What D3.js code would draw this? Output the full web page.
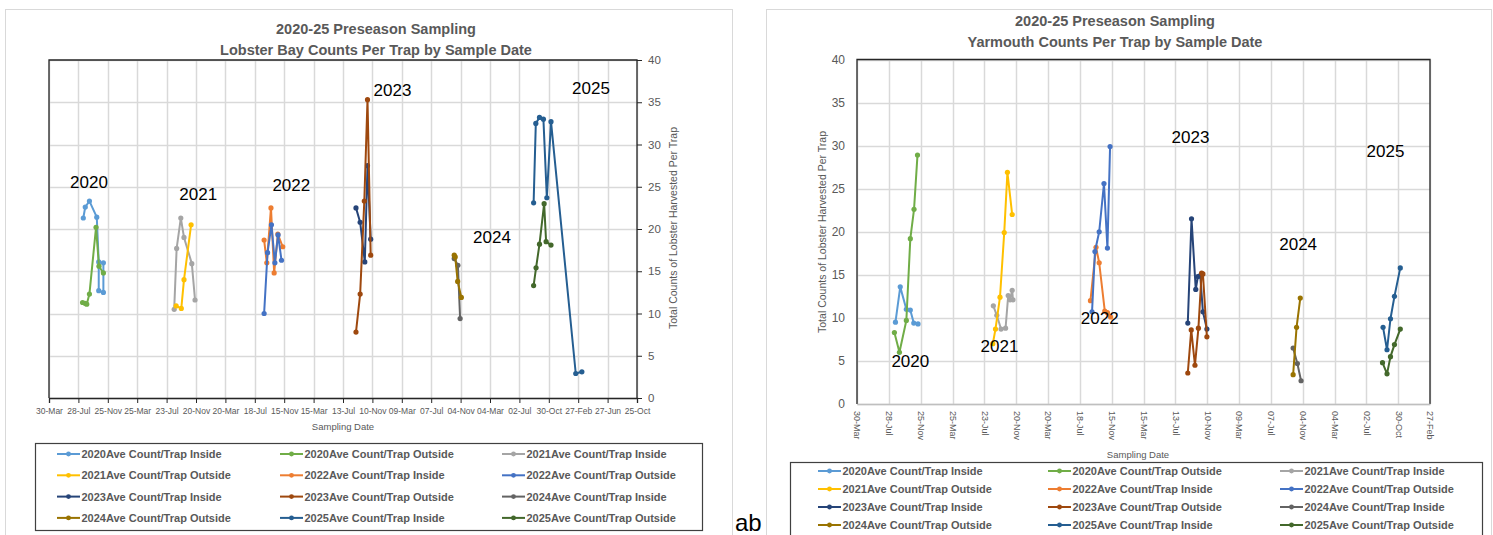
<!DOCTYPE html>
<meta charset="utf-8">
<script src="https://d3js.org/d3.v7.min.js"></script>
<style>
  body { margin: 0; background: #fff; }
  text { font-family: "Liberation Sans", Arial, sans-serif; }
</style>
<body>
<div id="canvas"></div>
<script>

// eixo X: Excel coloca um tick a cada 120 dias
var tickDates = ["2020-03-30","2020-07-28","2020-11-25","2021-03-25","2021-07-23","2021-11-20",
                 "2022-03-20","2022-07-18","2022-11-15","2023-03-15","2023-07-13","2023-11-10",
                 "2024-03-09","2024-07-07","2024-11-04","2025-03-04","2025-07-02","2025-10-30",
                 "2026-02-27","2026-06-27","2026-10-25"];
var yTicks = [0, 5, 10, 15, 20, 25, 30, 35, 40];

var seriesNames = ["2020Ave Count/Trap Inside","2020Ave Count/Trap Outside","2021Ave Count/Trap Inside",
                   "2021Ave Count/Trap Outside","2022Ave Count/Trap Inside","2022Ave Count/Trap Outside",
                   "2023Ave Count/Trap Inside","2023Ave Count/Trap Outside","2024Ave Count/Trap Inside",
                   "2024Ave Count/Trap Outside","2025Ave Count/Trap Inside","2025Ave Count/Trap Outside"];

// ---- Lobster Bay (grafico da esquerda)
var lb2020In  = [["2020-08-17",21.3],["2020-08-25",22.6],["2020-09-11",23.3],["2020-10-11",21.4],["2020-10-19",16.1],["2020-10-19",12.7],["2020-11-07",12.5],["2020-11-07",16.0]];
var lb2020Out = [["2020-08-14",11.3],["2020-08-24",11.2],["2020-08-31",11.1],["2020-09-11",12.3],["2020-10-08",20.2],["2020-10-20",15.6],["2020-11-07",14.8]];
var lb2021In  = [["2021-08-23",10.5],["2021-09-02",17.7],["2021-09-19",21.3],["2021-10-02",19.0],["2021-11-03",15.9],["2021-11-16",11.6]];
var lb2021Out = [["2021-08-31",10.9],["2021-09-21",10.6],["2021-10-02",14.0],["2021-10-31",20.5]];
var lb2022In  = [["2022-08-25",18.7],["2022-09-05",16.0],["2022-09-22",22.5],["2022-10-05",14.8],["2022-10-20",19.4],["2022-11-09",17.9]];
var lb2022Out = [["2022-08-25",10.0],["2022-09-08",17.2],["2022-09-24",20.5],["2022-10-08",16.0],["2022-10-21",19.3],["2022-11-04",16.3]];
var lb2023In  = [["2023-09-04",22.5],["2023-09-21",20.8],["2023-10-10",16.1],["2023-10-21",27.5],["2023-11-03",18.8]];
var lb2023Out = [["2023-09-04",7.8],["2023-09-21",12.3],["2023-10-08",23.3],["2023-10-21",35.3],["2023-11-03",16.9]];
var lb2024In  = [["2024-10-09",16.5],["2024-10-24",15.7],["2024-11-02",9.4]];
var lb2024Out = [["2024-10-09",16.9],["2024-10-13",16.7],["2024-10-23",13.8],["2024-11-07",11.9]];
var lb2025In  = [["2025-08-29",23.1],["2025-09-07",32.5],["2025-09-22",33.2],["2025-10-08",33.0],["2025-10-22",23.7],["2025-11-08",32.7],["2026-02-17",2.9],["2026-03-14",3.1]];
var lb2025Out = [["2025-08-29",13.3],["2025-09-08",15.4],["2025-09-22",18.2],["2025-10-11",23.0],["2025-10-19",18.5],["2025-11-08",18.1]];

// ---- Yarmouth (grafico da direita)
var ym2020In  = [["2020-08-22",9.5],["2020-09-09",13.6],["2020-10-02",11.0],["2020-10-17",10.9],["2020-10-30",9.4],["2020-11-15",9.3]];
var ym2020Out = [["2020-08-18",8.3],["2020-09-06",6.0],["2020-10-02",9.7],["2020-10-17",19.2],["2020-10-31",22.6],["2020-11-13",28.9]];
var ym2021In  = [["2021-08-26",11.4],["2021-09-08",10.3],["2021-09-24",8.7],["2021-10-11",8.8],["2021-10-21",12.6],["2021-10-28",12.1],["2021-11-05",13.2],["2021-11-08",12.1]];
var ym2021Out = [["2021-08-24",7.0],["2021-09-03",8.7],["2021-09-20",12.4],["2021-10-06",19.9],["2021-10-18",26.9],["2021-11-05",22.0]];
var ym2022In  = [["2022-08-27",12.0],["2022-09-17",18.2],["2022-09-29",16.4],["2022-10-20",10.8],["2022-10-30",10.6],["2022-11-11",10.1]];
var ym2022Out = [["2022-09-02",10.7],["2022-09-13",17.7],["2022-09-29",20.0],["2022-10-17",25.6],["2022-10-30",18.1],["2022-11-09",29.9]];
var ym2023In  = [["2023-08-29",9.4],["2023-09-12",21.5],["2023-09-28",13.3],["2023-10-06",14.8],["2023-10-15",14.9],["2023-10-25",10.7],["2023-11-09",8.7]];
var ym2023Out = [["2023-08-29",3.6],["2023-09-11",8.6],["2023-09-25",4.5],["2023-10-08",8.8],["2023-10-20",15.2],["2023-10-25",15.1],["2023-11-09",7.8]];
var ym2024In  = [["2024-09-29",6.5],["2024-10-15",4.7],["2024-10-29",2.7]];
var ym2024Out = [["2024-09-29",3.4],["2024-10-12",8.9],["2024-10-26",12.3]];
var ym2025In  = [["2025-09-03",8.9],["2025-09-18",6.3],["2025-10-01",9.9],["2025-10-16",12.5],["2025-11-07",15.8]];
var ym2025Out = [["2025-09-01",4.8],["2025-09-18",3.5],["2025-10-01",5.5],["2025-10-16",6.9],["2025-11-07",8.7]];

// rotulos dos anos (posicao em data / valor)
var lbYearLabels = [["2020","2020-09-09",24.8],["2021","2021-11-29",23.4],["2022","2022-12-14",24.5],
                    ["2023","2024-01-31",35.7],["2024","2025-03-12",18.4],["2025","2026-04-20",36.0]];
var ymYearLabels = [["2020","2020-10-17",4.3],["2021","2021-09-18",6.0],["2022","2022-10-01",9.25],
                    ["2023","2023-09-08",30.3],["2024","2024-10-18",17.9],["2025","2025-09-12",28.7]];

var colors = ["#5b9bd5","#70ad47","#a5a5a5","#ffc000","#ed7d31","#4472c4",
              "#264478","#9e480e","#636363","#997300","#255e91","#43682b"];

var parse = d3.utcParse("%Y-%m-%d");
var fmt = d3.utcFormat("%d-%b");
var textColor = "#595959";
var gridColor = "#d9d9d9";

var svg = d3.select("#canvas").append("svg")
    .attr("width", 1493).attr("height", 535)
    .style("display", "block");

var charts = [
  { place: "Lobster Bay",
    series: [lb2020In,lb2020Out,lb2021In,lb2021Out,lb2022In,lb2022Out,lb2023In,lb2023Out,lb2024In,lb2024Out,lb2025In,lb2025Out],
    years: lbYearLabels, ticks: tickDates,
    frame: {x: 5, y: 9, w: 727}, titleX: 376, titleY: 34,
    plot: {left: 49, right: 637, top: 60, bottom: 398},
    yRight: true, rotX: false,
    xTitle: [343, 430], yTitle: [673, 228],
    legend: {x: 35, y: 443, w: 667, h: 87, col: [57, 280, 502], row0: 454, rowH: 21.3} },
  { place: "Yarmouth",
    series: [ym2020In,ym2020Out,ym2021In,ym2021Out,ym2022In,ym2022Out,ym2023In,ym2023Out,ym2024In,ym2024Out,ym2025In,ym2025Out],
    years: ymYearLabels, ticks: tickDates.slice(0, 19),
    frame: {x: 766, y: 9, w: 725}, titleX: 1115, titleY: 26,
    plot: {left: 857, right: 1430, top: 59.5, bottom: 404},
    yRight: false, rotX: true,
    xTitle: [1138, 458], yTitle: [822, 232],
    legend: {x: 790, y: 462, w: 692, h: 90, col: [818, 1048, 1280], row0: 471, rowH: 18} }
];

charts.forEach(drawChart);

function drawChart(c) {
  var p = c.plot;
  var g = svg.append("g");

  // moldura do grafico
  g.append("rect")
    .attr("x", c.frame.x + 0.5).attr("y", c.frame.y + 0.5)
    .attr("width", c.frame.w).attr("height", 600)
    .attr("fill", "#fff").attr("stroke", gridColor);

  // titulo
  var t = g.append("text")
    .attr("x", c.titleX).attr("y", c.titleY)
    .attr("text-anchor", "middle")
    .style("font-size", "14.5px").style("font-weight", "bold")
    .attr("fill", textColor);
  t.append("tspan").attr("x", c.titleX).text("2020-25 Preseason Sampling");
  t.append("tspan").attr("x", c.titleX).attr("dy", "1.45em").text(c.place + " Counts Per Trap by Sample Date");

  var x = d3.scaleUtc()
    .domain([parse(c.ticks[0]), parse(c.ticks[c.ticks.length - 1])])
    .range([p.left, p.right]);
  var y = d3.scaleLinear().domain([0, 40]).range([p.bottom, p.top]);
  var tickVals = c.ticks.map(parse);

  // grade
  g.append("g").selectAll("line.v").data(tickVals).enter().append("line")
    .attr("x1", function(d) { return Math.round(x(d)) + 0.5; })
    .attr("x2", function(d) { return Math.round(x(d)) + 0.5; })
    .attr("y1", p.top).attr("y2", p.bottom)
    .attr("stroke", gridColor).attr("stroke-width", 1.5);
  g.append("g").selectAll("line.h").data(yTicks).enter().append("line")
    .attr("x1", p.left).attr("x2", p.right)
    .attr("y1", function(d) { return Math.round(y(d)) + 0.5; })
    .attr("y2", function(d) { return Math.round(y(d)) + 0.5; })
    .attr("stroke", gridColor).attr("stroke-width", 1.5);

  // borda da area do grafico
  g.append("path")
    .attr("d", "M" + p.left + "," + p.bottom + "V" + p.top + "H" + p.right + "V" + p.bottom)
    .attr("fill", "none").attr("stroke", "#262626").attr("stroke-width", 1.3);

  // eixo X
  var xAxis = d3.axisBottom(x).tickValues(tickVals).tickFormat(fmt)
    .tickSize(c.rotX ? 0 : 5).tickPadding(5);
  var gx = g.append("g")
    .attr("transform", "translate(0," + p.bottom + ")")
    .call(xAxis);
  gx.select(".domain").attr("stroke", c.rotX ? "#bfbfbf" : "#262626").attr("stroke-width", 1.3);
  gx.selectAll("line").attr("stroke", "#262626");
  gx.selectAll("text").attr("fill", textColor)
    .style("font-size", c.rotX ? "9px" : "8.5px")
    .style("font-family", '"Liberation Sans", Arial, sans-serif');
  if (c.rotX) {
    gx.selectAll("text")
      .attr("transform", "rotate(90)")
      .attr("x", 7).attr("y", 0).attr("dy", "0.35em")
      .style("text-anchor", "start");
  }

  // eixo Y
  var yAxis = (c.yRight ? d3.axisRight(y) : d3.axisLeft(y))
    .tickValues(yTicks).tickSize(c.yRight ? 5 : 0).tickPadding(c.yRight ? 6 : 12);
  var gy = g.append("g")
    .attr("transform", "translate(" + (c.yRight ? p.right : p.left) + ",0)")
    .call(yAxis);
  gy.select(".domain").remove();
  gy.selectAll("line").attr("stroke", "#262626");
  gy.selectAll("text").attr("fill", textColor)
    .style("font-size", c.yRight ? "11.5px" : "12px")
    .style("font-family", '"Liberation Sans", Arial, sans-serif');

  // titulos dos eixos
  g.append("text")
    .attr("x", c.xTitle[0]).attr("y", c.xTitle[1])
    .attr("text-anchor", "middle").style("font-size", "9.5px")
    .attr("fill", textColor).text("Sampling Date");
  g.append("text")
    .attr("transform", "translate(" + c.yTitle[0] + "," + c.yTitle[1] + ") rotate(-90)")
    .attr("dy", "0.35em").attr("text-anchor", "middle").style("font-size", "10.5px")
    .attr("fill", textColor).text("Total Counts of Lobster Harvested Per Trap");

  // linhas e pontos
  var line = d3.line()
    .x(function(d) { return x(parse(d[0])); })
    .y(function(d) { return y(d[1]); });

  for (var s = 0; s < c.series.length; s++) {
    g.append("path")
      .attr("d", line(c.series[s]))
      .attr("fill", "none").attr("stroke", colors[s])
      .attr("stroke-width", 2).attr("stroke-linejoin", "round");
    g.append("g").selectAll("circle")
      .data(c.series[s]).enter().append("circle")
      .attr("cx", function(d) { return x(parse(d[0])); })
      .attr("cy", function(d) { return y(d[1]); })
      .attr("r", 2.6).attr("fill", colors[s]);
  }

  // rotulos dos anos
  g.append("g").selectAll("text").data(c.years).enter().append("text")
    .attr("x", function(d) { return x(parse(d[1])); })
    .attr("y", function(d) { return y(d[2]); })
    .attr("text-anchor", "middle").style("font-size", "17px")
    .attr("fill", "#000").text(function(d) { return d[0]; });

  // legenda
  var L = c.legend;
  g.append("rect")
    .attr("x", L.x + 0.5).attr("y", L.y + 0.5).attr("width", L.w).attr("height", L.h)
    .attr("fill", "#fff").attr("stroke", "#404040").attr("stroke-width", 1.2);
  var items = g.append("g").selectAll("g").data(seriesNames).enter().append("g")
    .attr("transform", function(d, i) {
      return "translate(" + L.col[i % 3] + "," + (L.row0 + Math.floor(i / 3) * L.rowH) + ")";
    });
  items.append("line")
    .attr("x1", 0).attr("x2", 23)
    .attr("stroke", function(d, i) { return colors[i]; }).attr("stroke-width", 2);
  items.append("circle")
    .attr("cx", 11.5).attr("r", 2.4)
    .attr("fill", function(d, i) { return colors[i]; });
  items.append("text")
    .attr("x", 24.5).attr("dy", "0.36em")
    .style("font-size", "11px").style("font-weight", "bold")
    .attr("fill", textColor).text(function(d) { return d; });
}

// texto solto entre os dois graficos
svg.append("text")
  .attr("x", 735).attr("y", 531)
  .style("font-size", "24px").attr("fill", "#000")
  .text("ab");

</script>
</body>
